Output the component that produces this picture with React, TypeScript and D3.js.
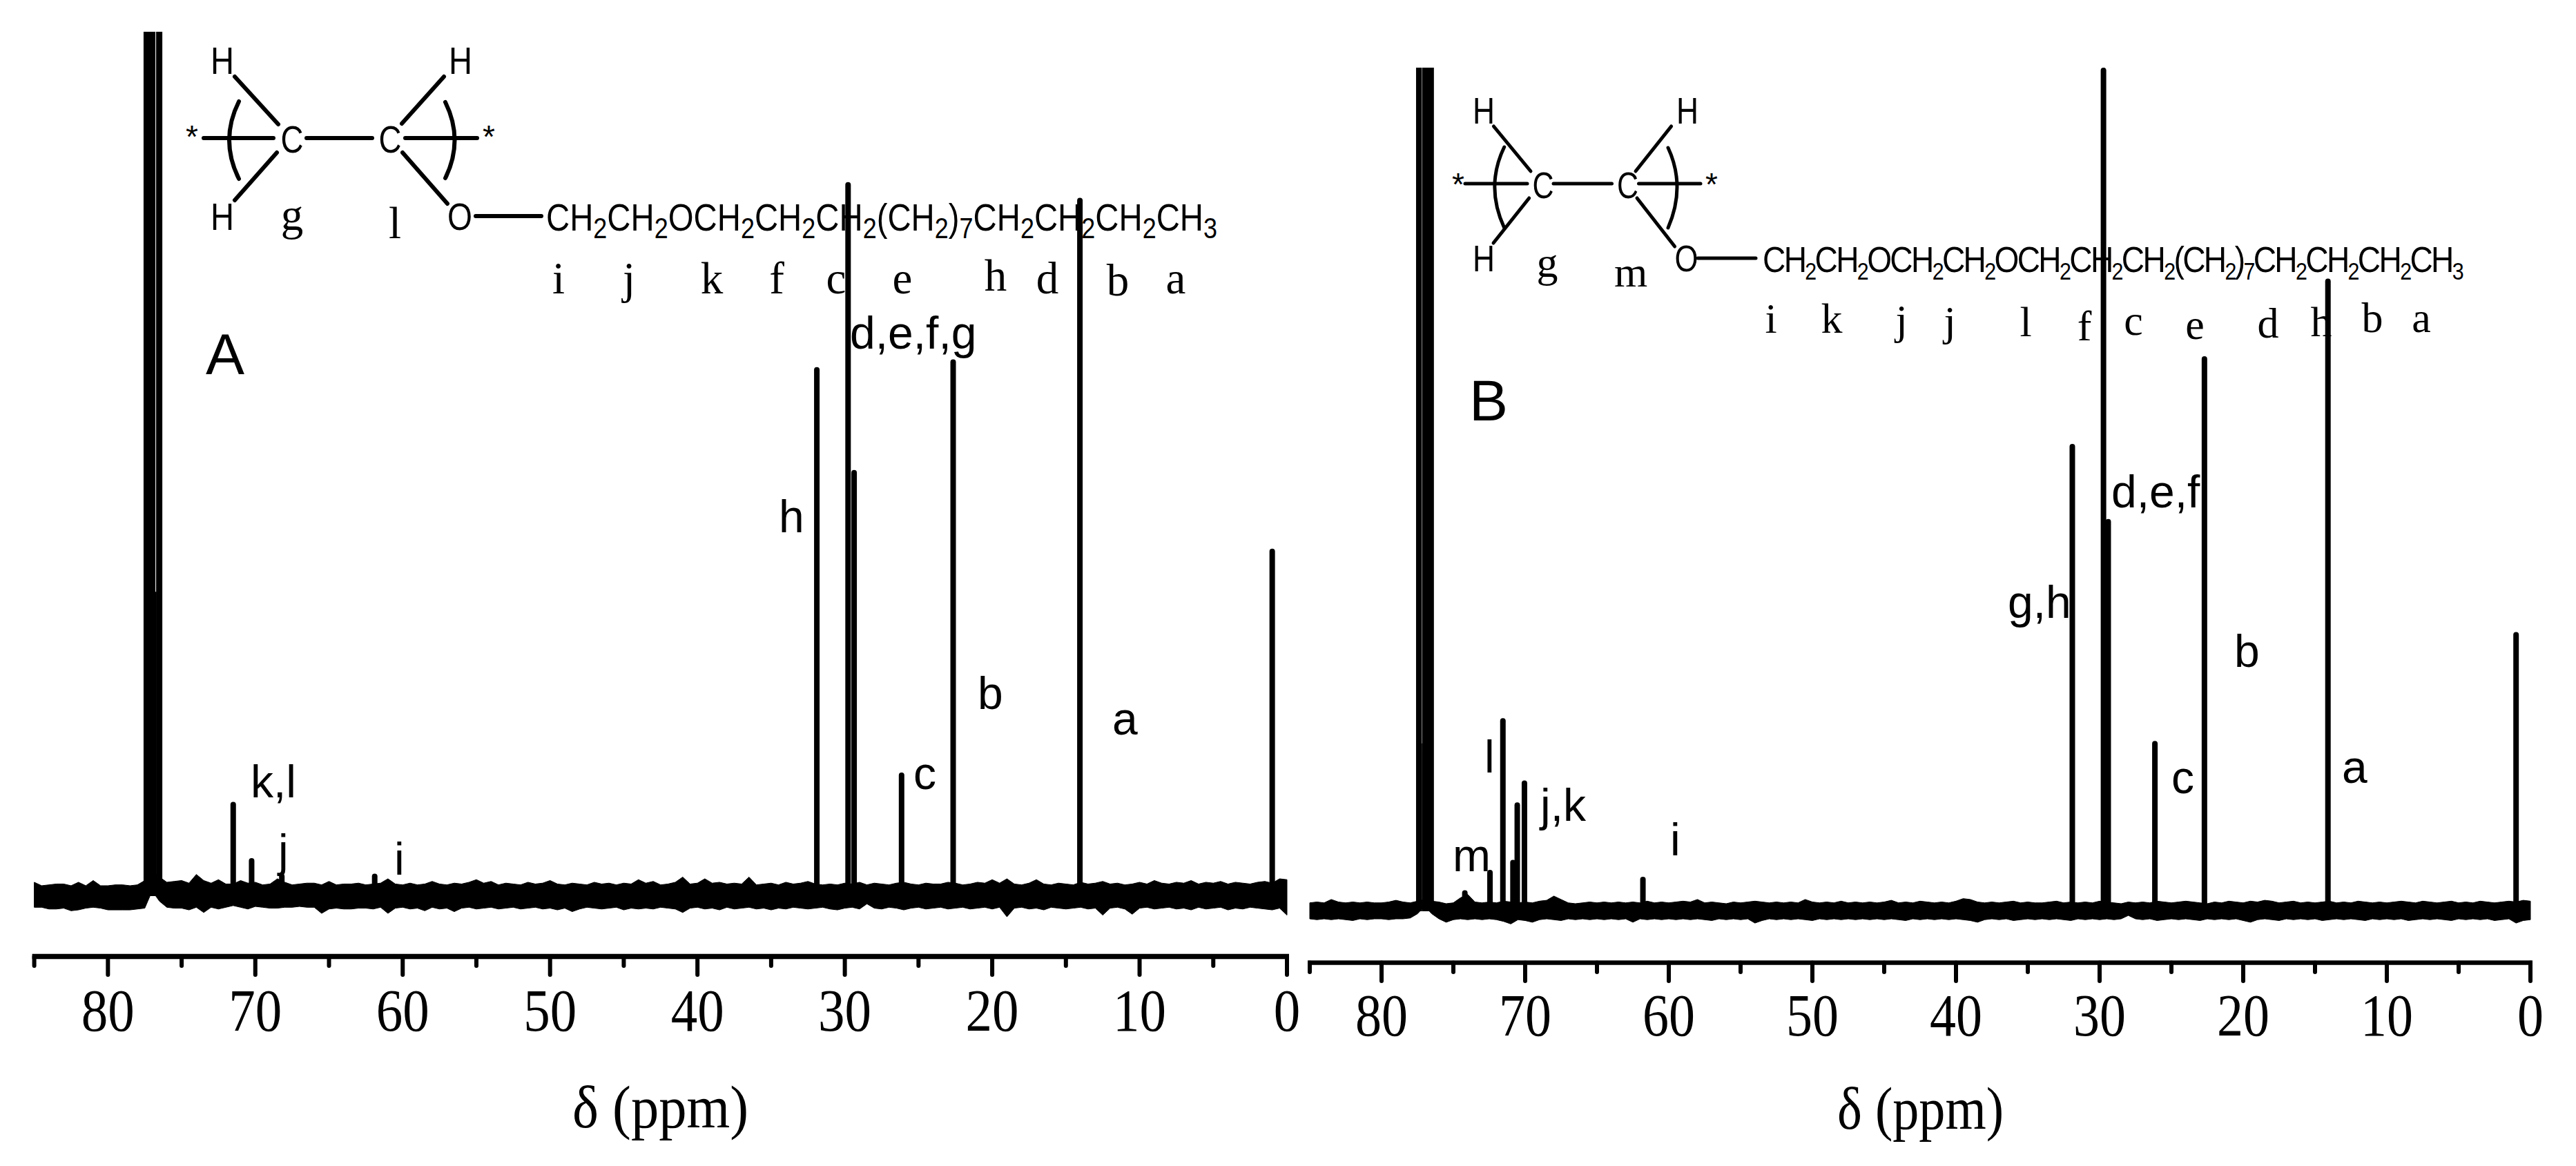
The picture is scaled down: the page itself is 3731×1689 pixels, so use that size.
import React from "react";
import * as d3 from "d3";

const W = 3731;
const H = 1689;

// ---------- data: tick labels ----------
const majorTicks = [80, 70, 60, 50, 40, 30, 20, 10, 0];
const minorTicks = [85, 75, 65, 55, 45, 35, 25, 15, 5];

// ---------- data: peaks of panel A (ppm, height in % of the solvent line) ----------
const solventPpmA = [77.36, 76.99, 76.52, 76.75];
const solventIntA = [100, 100, 100, 35.2];
const peakPpmA = [71.5, 70.25, 68.2, 61.9, 31.9, 29.78, 29.37, 26.15, 22.65, 14.05, 1.0];
const peakIntA = [10.9, 4.4, 2.6, 2.6, 61.2, 82.6, 49.3, 14.3, 62.1, 80.8, 40.2];

// ---------- data: peaks of panel B ----------
const solventPpmB = [77.4, 76.95, 76.57, 77.15];
const solventIntB = [100, 100, 100, 19.9];
const peakPpmB = [74.2, 72.45, 71.55, 70.85, 70.55, 70.05, 61.8, 31.9, 29.73, 29.4, 26.15, 22.7, 14.1, 1.0];
const peakIntB = [2.5, 4.9, 22.9, 6.1, 12.9, 15.5, 4.1, 55.4, 100, 46.5, 20.2, 65.8, 75, 33.1];

// ---------- data: upper / lower edge of the noise band, one value every 0.5 ppm from 85 to 0,
// in tenths of a percent ----------
const noiseTopA = [
  16,12,13,14,14,12,16,12,18,12,12,13,13,12,13,18,30,22,16,17,18,15,25,18,15,19,14,14,18,15,
  16,13,14,20,16,13,14,15,15,13,17,13,14,14,15,13,14,15,20,14,13,15,13,14,17,14,13,15,14,16,
  19,15,17,13,15,14,13,16,14,15,18,14,13,15,14,13,16,14,15,13,15,14,19,15,17,13,14,16,22,14,
  15,20,15,16,14,15,14,22,13,14,15,13,16,14,15,17,14,13,14,13,15,14,16,13,15,14,13,15,16,14,
  13,15,14,14,16,15,13,14,16,15,19,15,20,14,13,15,19,14,13,15,14,13,16,14,15,17,14,15,13,14,
  16,14,18,15,14,16,15,18,14,16,15,17,14,16,15,14,16,17,15,20,19,
];
const noiseBotA = [
  -13,-13,-15,-15,-14,-17,-16,-14,-13,-14,-16,-16,-16,-16,-15,-14,6,-6,-13,-14,-14,-16,-13,-19,-13,-15,-13,-11,-13,-15,
  -12,-13,-14,-14,-13,-13,-12,-13,-13,-20,-15,-14,-15,-15,-14,-14,-15,-13,-20,-14,-13,-15,-14,-17,-13,-15,-14,-18,-14,-13,
  -15,-14,-13,-15,-14,-13,-15,-14,-13,-15,-14,-16,-14,-18,-15,-13,-14,-15,-14,-13,-16,-14,-15,-14,-15,-13,-14,-15,-19,-14,
  -13,-15,-14,-16,-13,-15,-14,-13,-15,-14,-16,-14,-15,-13,-14,-15,-14,-13,-15,-16,-14,-13,-15,-9,-14,-15,-13,-14,-16,-14,
  -13,-15,-14,-13,-15,-14,-13,-15,-14,-13,-15,-13,-24,-14,-13,-15,-14,-16,-13,-14,-15,-14,-13,-15,-14,-22,-14,-13,-15,-21,
  -14,-13,-15,-14,-13,-15,-14,-16,-13,-15,-14,-13,-16,-14,-15,-13,-14,-15,-16,-14,-22,
];
const noiseTopB = [
  10,11,10,14,11,10,11,10,11,10,10,11,13,11,10,12,14,12,11,9,10,16,20,11,10,11,10,12,11,10,
  11,10,12,13,18,14,10,9,10,11,10,11,10,11,10,11,10,12,10,11,10,11,12,11,14,10,11,10,9,11,
  10,11,12,11,10,11,10,11,10,14,11,10,11,10,12,10,11,10,11,10,11,13,10,11,10,12,11,10,11,10,
  12,15,14,11,10,11,10,11,12,10,11,10,10,11,12,10,11,10,11,10,12,11,10,9,11,10,11,10,12,11,
  10,11,12,11,10,9,11,10,12,11,10,12,11,13,12,10,11,12,10,11,10,11,12,10,11,10,12,11,10,11,
  10,11,12,11,10,12,11,10,11,12,10,11,10,12,11,10,11,12,11,13,12,
];
const noiseBotB = [
  -9,-10,-9,-10,-9,-10,-11,-9,-10,-9,-9,-10,-9,-9,-8,-3,6,-3,-9,-13,-10,-9,-10,-9,-10,-9,-10,-12,-15,-10,
  -11,-13,-10,-9,-10,-11,-9,-10,-9,-10,-9,-10,-9,-10,-9,-13,-9,-10,-9,-10,-9,-10,-9,-10,-9,-10,-11,-9,-10,-9,
  -10,-9,-14,-11,-9,-10,-9,-10,-9,-10,-11,-9,-10,-9,-10,-9,-10,-9,-10,-9,-10,-9,-10,-11,-9,-10,-9,-10,-9,-10,
  -9,-10,-11,-13,-10,-9,-10,-9,-11,-10,-9,-10,-9,-10,-9,-10,-11,-9,-10,-9,-10,-9,-10,-9,-5,-9,-10,-9,-11,-10,
  -9,-10,-9,-10,-11,-9,-10,-9,-10,-9,-11,-13,-10,-9,-10,-11,-9,-10,-9,-10,-9,-11,-10,-9,-10,-9,-10,-11,-9,-10,
  -9,-10,-9,-11,-10,-9,-10,-9,-10,-11,-9,-10,-9,-10,-9,-11,-10,-9,-14,-11,-10,
];

// ---------- layout ----------
const SERIF = "'Liberation Serif','Times New Roman',serif";
const SANS = "'Liberation Sans',Arial,sans-serif";

const xA = d3.scaleLinear().domain([85, 0]).range([49.6, 1864]);
const yA = d3.scaleLinear().domain([0, 100]).range([1298, 46]);
const xB = d3.scaleLinear().domain([85, 0]).range([1897, 3665]);
const yB = d3.scaleLinear().domain([0, 100]).range([1320, 98]);

type TProps = { x: number; y: number; t: string; size?: number; font?: string; anchor?: string; len?: number };
function T({ x, y, t, size = 65, font = SANS, anchor = "start", len }: TProps) {
  return (
    <text x={x} y={y} fontSize={size} fontFamily={font} textAnchor={anchor} fill="#000"
      {...(len ? { textLength: len, lengthAdjust: "spacingAndGlyphs" } : {})}>
      {t}
    </text>
  );
}

// One chemical formula, broken into normal / subscript pieces
function Formula({ x, y, parts, len, size, subRatio, spacing }: { x: number; y: number; parts: string[]; len?: number; size: number; subRatio: number; spacing?: number }) {
  const shift = 11;
  let low = false;
  const fit = len ? { textLength: len, lengthAdjust: "spacingAndGlyphs" } : {};
  return (
    <text x={x} y={y} fontSize={size} fontFamily={SANS} fill="#000" letterSpacing={spacing} {...fit}>
      {parts.map((p, i) => {
        const sub = /^\d$/.test(p);
        const dy = sub === low ? 0 : sub ? shift : -shift;
        low = sub;
        return (
          <tspan key={i} dy={dy} fontSize={sub ? size * subRatio : size}>
            {p}
          </tspan>
        );
      })}
    </text>
  );
}

function Panel({ x, y, axisY, tickW, tickMajor, tickMinor, solventPpm, solventInt, solventW, peakPpm, peakInt, top, bot, labelY, labelLen }: any) {
  const ppmGrid = d3.range(top.length).map((i) => 85 - 0.5 * i);
  const area = d3
    .area<number>()
    .x((_, i) => x(ppmGrid[i]))
    .y0((_, i) => y(bot[i] / 10))
    .y1((_, i) => y(top[i] / 10))
    .curve(d3.curveLinear);
  const [a, b] = x.range();
  return (
    <g>
      <path d={area(top) || ""} fill="#000" stroke="#000" strokeWidth={1} />
      {solventPpm.map((p: number, i: number) => (
        <line key={i} x1={x(p)} x2={x(p)} y1={y(0)} y2={y(solventInt[i])} stroke="#000" strokeWidth={solventW[i]} />
      ))}
      {peakPpm.map((p: number, i: number) => (
        <line key={i} x1={x(p)} x2={x(p)} y1={y(0)} y2={y(peakInt[i]) + 4} stroke="#000" strokeWidth={8} strokeLinecap="round" />
      ))}
      <line x1={a - 3} x2={b + 3} y1={axisY} y2={axisY} stroke="#000" strokeWidth={tickW + 0.5} />
      {majorTicks.map((t) => (
        <g key={t}>
          <line x1={x(t)} x2={x(t)} y1={axisY} y2={tickMajor} stroke="#000" strokeWidth={6} strokeLinecap="round" />
          <T x={x(t)} y={labelY} t={String(t)} size={86} font={SERIF} anchor="middle" len={t === 0 ? labelLen / 2 : labelLen} />
        </g>
      ))}
      {minorTicks.map((t) => (
        <line key={t} x1={x(t)} x2={x(t)} y1={axisY} y2={tickMinor} stroke="#000" strokeWidth={6} strokeLinecap="round" />
      ))}
    </g>
  );
}

const CH2 = ["CH", "2"];
const chainA = [...CH2, ...CH2, "O", ...CH2, ...CH2, ...CH2, "(", ...CH2, ")", "7", ...CH2, ...CH2, ...CH2, "CH", "3"];
const chainB = [...CH2, ...CH2, "O", ...CH2, ...CH2, "O", ...CH2, ...CH2, ...CH2, "(", ...CH2, ")", "7", ...CH2, ...CH2, ...CH2, "CH", "3"];

type L = [number, number, number, number];
const bondsA: L[] = [
  [340, 111, 403, 180], [401, 221, 340, 290], [295, 200, 396, 200], [444, 200, 539, 200],
  [587, 200, 691, 200], [582, 179, 643, 111], [583, 221, 648, 295], [689, 313, 784, 313],
];
const bondsB: L[] = [
  [2122, 266, 2212, 266], [2250, 266, 2334.5, 266], [2373.5, 266, 2463, 266], [2163.4, 183, 2217, 248],
  [2214.7, 287, 2163, 352], [2420.6, 183, 2369, 248], [2371, 287, 2425.6, 357], [2459, 374, 2543, 374],
];

const rowA: [string, number, number][] = [
  ["i", 809, 425], ["j", 911, 425], ["k", 1031, 425], ["f", 1125, 425], ["c", 1211, 425],
  ["e", 1307, 425], ["h", 1442, 421], ["d", 1517, 425], ["b", 1619, 428], ["a", 1703, 425],
];
const rowB: [string, number, number][] = [
  ["i", 2565, 482], ["k", 2653, 482], ["j", 2754, 484], ["j", 2824, 486], ["l", 2934, 487], ["f", 3019, 493],
  ["c", 3090, 485], ["e", 3179, 491], ["d", 3285, 489], ["h", 3362, 487], ["b", 3436, 481], ["a", 3507, 481],
];
const notesA: [string, number, number][] = [
  ["d,e,f,g", 1231, 505], ["h", 1128, 771], ["k,l", 363, 1155], ["j", 403, 1255], ["i", 571, 1267],
  ["c", 1323, 1143], ["b", 1416, 1027], ["a", 1611, 1064],
];
const notesB: [string, number, number][] = [
  ["d,e,f", 3058, 735], ["g,h", 2908, 895], ["b", 3236, 966], ["c", 3145, 1149], ["a", 3392, 1134],
  ["l", 2150, 1119], ["m", 2104, 1262], ["j,k", 2231, 1189], ["i", 2419, 1239],
];

export default function App() {
  return (
    <svg width={W} height={H} viewBox={`0 0 ${W} ${H}`} style={{ position: "absolute", left: 0, top: 0, background: "#fff" }}>
      <Panel x={xA} y={yA} axisY={1385.5} tickW={7} tickMajor={1412} tickMinor={1399}
        solventPpm={solventPpmA} solventInt={solventIntA} solventW={[9.5, 9, 9, 2]}
        peakPpm={peakPpmA} peakInt={peakIntA} top={noiseTopA} bot={noiseBotA} labelY={1493} labelLen={77} />
      <Panel x={xB} y={yB} axisY={1394.5} tickW={6} tickMajor={1421} tickMinor={1408}
        solventPpm={solventPpmB} solventInt={solventIntB} solventW={[8.2, 9.5, 9, 2]}
        peakPpm={peakPpmB} peakInt={peakIntB} top={noiseTopB} bot={noiseBotB} labelY={1500} labelLen={76} />

      <T x={829} y={1633} t="δ (ppm)" size={86} font={SERIF} len={255} />
      <T x={2661} y={1635} t="δ (ppm)" size={86} font={SERIF} len={241} />

      {/* structure A */}
      {bondsA.map((l, i) => (
        <line key={i} x1={l[0]} y1={l[1]} x2={l[2]} y2={l[3]} stroke="#000" strokeWidth={6} strokeLinecap="round" />
      ))}
      <path d="M346,147 Q318,203 346,259 M645,148 Q672,203 645,258" fill="none" stroke="#000" strokeWidth={6} strokeLinecap="round" />
      {[[322, 107, "H"], [667, 107, "H"], [322, 333, "H"], [423, 221, "C"], [565, 221, "C"]].map((d: any, i) => (
        <T key={i} x={d[0]} y={d[1]} t={d[2]} size={56} anchor="middle" len={d[2] === "H" ? 34 : 33} />
      ))}
      <T x={666} y={333} t="O" size={56} anchor="middle" len={36} />
      <T x={278} y={214} t="*" size={46} anchor="middle" />
      <T x={708} y={214} t="*" size={46} anchor="middle" />
      <T x={423} y={333} t="g" size={65} font={SERIF} anchor="middle" />
      <T x={572} y={345} t="l" size={65} font={SERIF} anchor="middle" />
      <Formula x={791} y={334} parts={chainA} len={972} size={55} subRatio={0.76} />
      {rowA.map((d, i) => (
        <T key={i} x={d[1]} y={d[2]} t={d[0]} size={65} font={SERIF} anchor="middle" />
      ))}
      <T x={298} y={542} t="A" size={84} />
      {notesA.map((d, i) => (
        <T key={i} x={d[1]} y={d[2]} t={d[0]} size={66} />
      ))}

      {/* structure B */}
      {bondsB.map((l, i) => (
        <line key={i} x1={l[0]} y1={l[1]} x2={l[2]} y2={l[3]} stroke="#000" strokeWidth={5} strokeLinecap="round" />
      ))}
      <path d="M2178.7,213 Q2151,270 2178.7,330 M2416,214 Q2442,270 2416,330" fill="none" stroke="#000" strokeWidth={5} strokeLinecap="round" />
      {[[2149, 179, "H"], [2444, 179, "H"], [2149, 393, "H"], [2235, 287, "C"], [2357.5, 287, "C"]].map((d: any, i) => (
        <T key={i} x={d[0]} y={d[1]} t={d[2]} size={54} anchor="middle" len={d[2] === "H" ? 32 : 31} />
      ))}
      <T x={2442.5} y={393} t="O" size={54} anchor="middle" len={34} />
      <T x={2112} y={283} t="*" size={46} anchor="middle" />
      <T x={2479} y={283} t="*" size={46} anchor="middle" />
      <T x={2241} y={401} t="g" size={62} font={SERIF} anchor="middle" />
      <T x={2362} y={415} t="m" size={62} font={SERIF} anchor="middle" />
      <Formula x={2553} y={393.5} parts={chainB} len={1013} size={52} subRatio={0.66} spacing={-3} />
      {rowB.map((d, i) => (
        <T key={i} x={d[1]} y={d[2]} t={d[0]} size={62} font={SERIF} anchor="middle" />
      ))}
      <T x={2128} y={609} t="B" size={84} />
      {notesB.map((d, i) => (
        <T key={i} x={d[1]} y={d[2]} t={d[0]} size={66} />
      ))}
    </svg>
  );
}
